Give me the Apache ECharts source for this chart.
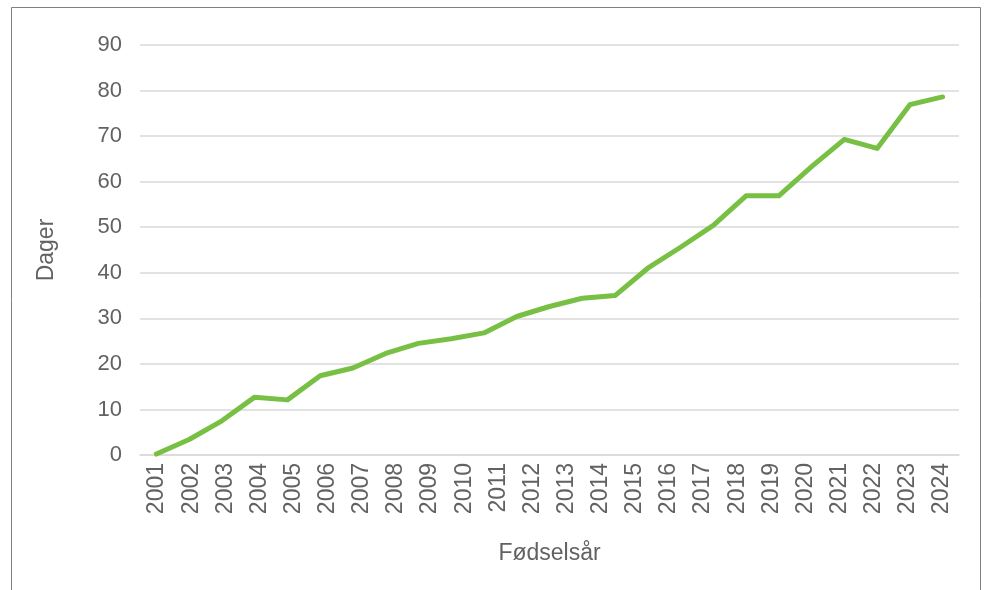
<!DOCTYPE html>
<html lang="no">
<head>
<meta charset="UTF-8">
<title>Dager etter fødselsår</title>
<script src="https://cdn.jsdelivr.net/npm/echarts@6/dist/echarts.min.js"></script>
<style>
  html, body { margin: 0; padding: 0; background: #fff; }
  #main { width: 987px; height: 590px; }
</style>
</head>
<body>
<div id="main"></div>
<script>
// aksetekster
var years = ['2001', '2002', '2003', '2004', '2005', '2006', '2007', '2008', '2009', '2010', '2011', '2012',
             '2013', '2014', '2015', '2016', '2017', '2018', '2019', '2020', '2021', '2022', '2023', '2024'];
var yTicks = [0, 10, 20, 30, 40, 50, 60, 70, 80, 90];
// linjen har ett punkt mer enn kategoriene i originalen
var dager = [0.2, 3.4, 7.5, 12.7, 12.1, 17.4, 19.1, 22.3, 24.5, 25.5, 26.8, 30.4, 32.6,
             34.4, 35.0, 41.0, 45.6, 50.4, 56.9, 56.9, 63.3, 69.3, 67.3, 76.9, 78.6];

var font = 'Liberation Sans, Arial, sans-serif';
var grey = '#626262';

var myChart = echarts.init(document.getElementById('main'));
var option = {
    animation: false,
    graphic: [{
        type: 'rect',
        shape: { x: 11.5, y: 7.5, width: 969, height: 620 },
        style: { fill: 'none', stroke: '#808080', lineWidth: 1 },
        silent: true
    }],
    grid: { left: 140, right: 28, top: 45, bottom: 135 },
    xAxis: [
        {
            type: 'category',
            data: years,
            boundaryGap: true,
            name: 'Fødselsår',
            nameLocation: 'middle',
            nameGap: 87,
            nameTextStyle: { fontFamily: font, fontSize: 23, color: grey },
            axisLine: { show: true, lineStyle: { color: '#d9d9d9', width: 1.5 } },
            axisTick: { show: false },
            axisLabel: { rotate: 90, margin: 8, fontFamily: font, fontSize: 23, color: grey, interval: 0 }
        },
        {
            type: 'category',
            data: dager.map(function (v, i) { return i; }),
            boundaryGap: true,
            show: false
        }
    ],
    yAxis: {
        type: 'value',
        min: yTicks[0],
        max: yTicks[yTicks.length - 1],
        interval: 10,
        name: 'Dager',
        nameLocation: 'middle',
        nameGap: 82,
        nameRotate: 90,
        nameTextStyle: { fontFamily: font, fontSize: 23, color: grey },
        axisLine: { show: false },
        axisTick: { show: false },
        axisLabel: { margin: 18, fontFamily: font, fontSize: 22, color: grey },
        splitLine: { lineStyle: { color: '#d9d9d9', width: 1.5 } }
    },
    series: [{
        type: 'line',
        xAxisIndex: 1,
        data: dager,
        symbol: 'none',
        lineStyle: { color: '#77c043', width: 5, cap: 'round', join: 'round' }
    }]
};
myChart.setOption(option);
</script>
</body>
</html>
